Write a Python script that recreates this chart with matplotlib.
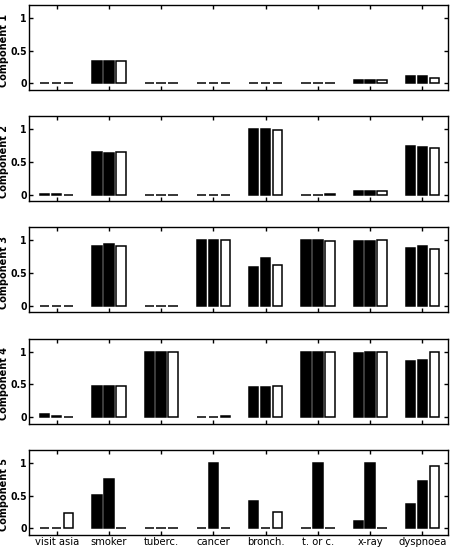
import matplotlib
matplotlib.use('Agg')
import matplotlib.pyplot as plt
import numpy as np

# variables of the Asia network
labels = ['visit asia', 'smoker', 'tuberc.', 'cancer', 'bronch.', 't. or c.', 'x-ray', 'dyspnoea']

# three bars per variable: two black, one white
comp1 = [[0.0, 0.34, 0.0, 0.0, 0.01, 0.0, 0.05, 0.11],
         [0.0, 0.34, 0.0, 0.0, 0.0, 0.0, 0.05, 0.11],
         [0.0, 0.35, 0.0, 0.0, 0.0, 0.0, 0.06, 0.09]]
comp2 = [[0.01, 0.65, 0.0, 0.0, 1.0, 0.0, 0.05, 0.74],
         [0.01, 0.64, 0.0, 0.0, 1.0, 0.0, 0.05, 0.73],
         [0.0, 0.65, 0.0, 0.0, 0.99, 0.01, 0.05, 0.72]]
comp3 = [[0.0, 0.91, 0.0, 1.0, 0.59, 1.0, 0.99, 0.88],
         [0.0, 0.95, 0.0, 1.0, 0.73, 1.0, 0.99, 0.92],
         [0.0, 0.91, 0.0, 1.0, 0.63, 0.99, 1.0, 0.87]]
comp4 = [[0.05, 0.47, 1.0, 0.0, 0.46, 1.0, 0.98, 0.86],
         [0.02, 0.47, 1.0, 0.0, 0.46, 1.0, 1.0, 0.87],
         [0.0, 0.47, 0.99, 0.01, 0.47, 1.0, 1.0, 1.0]]
comp5 = [[0.0, 0.51, 0.0, 0.0, 0.42, 0.0, 0.11, 0.37],
         [0.0, 0.75, 0.0, 1.0, 0.0, 1.0, 1.0, 0.72],
         [0.23, 0.0, 0.0, 0.01, 0.25, 0.0, 0.0, 0.95]]
components = [comp1, comp2, comp3, comp4, comp5]

bar_colors = ['black', 'black', 'white']
offsets = [-0.228, 0.0, 0.228]

fig = plt.figure(figsize=(4.54, 5.57), dpi=100)
x = np.arange(1, len(labels) + 1)

for i, comp in enumerate(components):
    top = 5 + 111.2 * i
    ax = fig.add_axes([29 / 454, 1 - (top + 85) / 557, 419 / 454, 85 / 557])
    for vals, col, off in zip(comp, bar_colors, offsets):
        ax.bar(x + off, vals, width=0.18, color=col, edgecolor='black', linewidth=1.1)
    ax.set_xlim(0.47, 8.49)
    ax.set_ylim(-0.1, 1.2)
    ax.set_yticks([0, 0.5, 1])
    ax.set_yticklabels(['0', '0.5', '1'], family='DejaVu Sans', fontstretch='condensed',
                       fontsize=7.5, fontweight='bold')
    ax.set_xticks(x)
    if i == len(components) - 1:
        ax.set_xticklabels(labels, family='DejaVu Sans', fontstretch='condensed', fontsize=8)
    else:
        ax.set_xticklabels([])
    ax.tick_params(direction='in', top=True, right=True, length=3, width=1, pad=1.5)
    ax.set_ylabel('Component %d' % (i + 1), fontsize=7, fontweight='bold')
    ax.yaxis.set_label_coords(-20 / 419, 0.47)
    for s in ax.spines.values():
        s.set_linewidth(1.0)

fig.savefig('out.png', dpi=100)
